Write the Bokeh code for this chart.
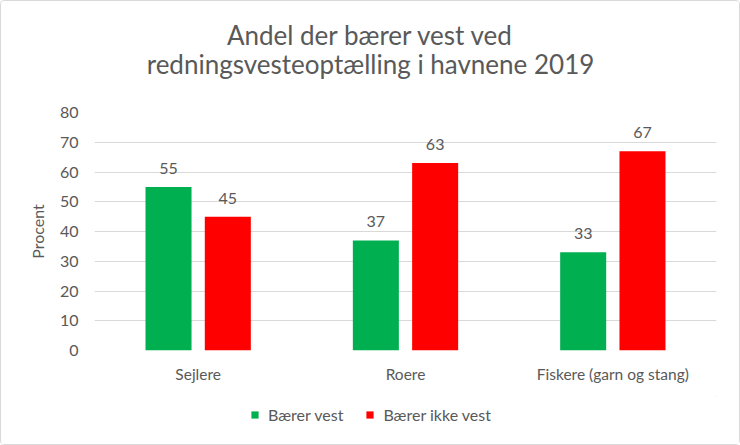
from bokeh.plotting import figure
from bokeh.models import ColumnDataSource, LabelSet, Legend, LegendItem, FactorRange, Label
from bokeh.layouts import column
from bokeh.transform import dodge
from bokeh.core.properties import value
from bokeh.embed import file_html
from bokeh.resources import INLINE

categories = ["Sejlere", "Roere", "Fiskere (garn og stang)"]
baerer_vest = [55, 37, 33]
baerer_ikke_vest = [45, 63, 67]
series_names = ["Bærer vest", "Bærer ikke vest"]
title_lines = ["Andel der bærer vest ved", "redningsvesteoptælling i havnene 2019"]
y_label = "Procent"
y_ticks = [0, 10, 20, 30, 40, 50, 60, 70, 80]

FONT = "Lato"
GRAY = "#595959"
GREEN = "#00B050"
RED = "#FF0000"
colors = [GREEN, RED]

src = ColumnDataSource(dict(
    cat=categories,
    v1=baerer_vest,
    v2=baerer_ikke_vest,
    t1=[str(v) for v in baerer_vest],
    t2=[str(v) for v in baerer_ikke_vest],
))

def blank(fig):
    fig.axis.visible = False
    fig.grid.visible = False
    fig.outline_line_color = None
    fig.background_fill_color = "white"
    fig.border_fill_color = "white"

# ---- title strip (1 data unit = 1 px) ----
tf = figure(width=738, height=100, output_backend="svg", toolbar_location=None,
            x_range=(0, 622), y_range=(0, 100), min_border=0, title=None)
blank(tf)
for txt, ypos in zip(title_lines, (67, 38)):
    tf.add_layout(Label(x=276, y=ypos, text=txt, text_align="center", text_baseline="alphabetic",
                        text_font=FONT, text_font_size="26px", text_color=GRAY))

# ---- main chart ----
p = figure(
    x_range=FactorRange(*categories), y_range=(0, 80),
    width=738, height=295, output_backend="svg", toolbar_location=None,
    min_border_left=93, min_border_right=23, min_border_top=11, min_border_bottom=46,
    title=None,
)
p.outline_line_color = None
p.background_fill_color = "white"
p.border_fill_color = "white"

w = 0.222
r1 = p.vbar(x=dodge("cat", -0.143, range=p.x_range), top="v1", width=w, source=src,
            fill_color=GREEN, line_color=None)
r2 = p.vbar(x=dodge("cat", 0.143, range=p.x_range), top="v2", width=w, source=src,
            fill_color=RED, line_color=None)

for col, off, top in (("t1", -0.143, "v1"), ("t2", 0.143, "v2")):
    p.add_layout(LabelSet(x=dodge("cat", off, range=p.x_range), y=top, text=col, source=src,
                          text_align="center", text_baseline="alphabetic", y_offset=13,
                          text_font=value(FONT), text_font_size=value("16px"), text_color=GRAY))

p.xgrid.grid_line_color = None
p.ygrid.grid_line_color = "#D9D9D9"
p.ygrid.grid_line_width = 1
p.yaxis.ticker = y_ticks

for ax in (p.xaxis[0], p.yaxis[0]):
    ax.axis_line_color = None
    ax.major_tick_line_color = None
    ax.minor_tick_line_color = None
    ax.major_tick_out = 0
    ax.major_tick_in = 0
    ax.major_label_text_font = FONT
    ax.major_label_text_color = GRAY

p.xaxis.major_label_text_font_size = "15.5px"
p.yaxis.major_label_text_font_size = "16px"
p.xaxis.major_label_standoff = 14
p.yaxis.major_label_standoff = 16
p.yaxis.axis_label = y_label
p.yaxis.axis_label_text_font = FONT
p.yaxis.axis_label_text_font_size = "16px"
p.yaxis.axis_label_text_font_style = "normal"
p.yaxis.axis_label_text_color = GRAY
p.yaxis.axis_label_standoff = 10

# ---- legend strip ----
lg = figure(width=738, height=48, output_backend="svg", toolbar_location=None,
            x_range=(0, 1), y_range=(0, 1), min_border=0, title=None)
blank(lg)
# swatch renderers lie outside the visible range; only their legend glyphs show
swatches = [lg.vbar(x=[5], top=[6], bottom=[5], width=1, fill_color=c, line_color=None) for c in colors]
legend = Legend(
    items=[LegendItem(label=series_names[i], renderers=[swatches[i]]) for i in range(2)],
    orientation="horizontal", location=(156, 20),
    glyph_width=9, glyph_height=9, label_standoff=9, spacing=22, padding=0, margin=0,
    label_text_font=FONT, label_text_font_size="16px", label_text_color=GRAY,
    border_line_color=None, background_fill_alpha=0,
)
lg.add_layout(legend, "center")

layout = column(tf, p, lg, spacing=0,
                styles={"border": "1px solid #D9D9D9", "border-radius": "4px", "background": "white"})

open("out.html", "w").write(file_html(layout, INLINE))
